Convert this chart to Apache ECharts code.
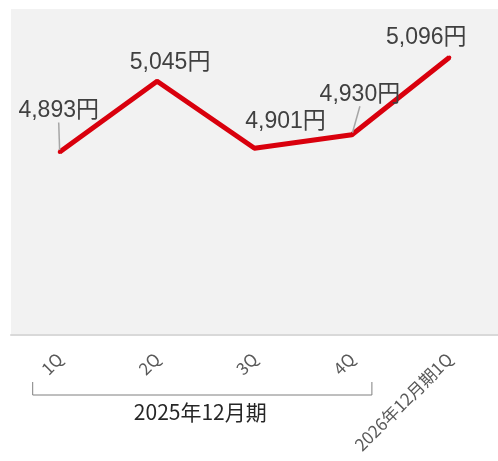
<!DOCTYPE html>
<html><head><meta charset="utf-8">
<script src="https://cdn.jsdelivr.net/npm/echarts@6/dist/echarts.min.js"></script>
<style>html,body{margin:0;padding:0;background:#fff}#c{width:498px;height:461px}</style>
</head><body><div id="c"></div>
<script>
const categories = ['1Q', '2Q', '3Q', '4Q', '2026年12月期1Q'];
const values = [4893, 5045, 4901, 4930, 5096];
const groupLabel = '2025年12月期';
const labelOffsets = [[-1, -41], [13, -19], [31, -27], [8, -40], [-23, -20]];
const showLeader = [true, false, false, true, false];

const chart = echarts.init(document.getElementById('c'));
const option = {
  animation: false,
  grid: { left: 11, top: 9, width: 496, height: 326, show: true, backgroundColor: '#f2f2f2', borderWidth: 0 },
  xAxis: {
    type: 'category', data: categories, boundaryGap: true,
    axisLine: { lineStyle: { color: '#d9d9d9', width: 2 } },
    axisTick: { show: false },
    axisLabel: { rotate: 45, margin: 21, fontSize: 17, color: '#595959', fontFamily: 'Noto Sans CJK JP', interval: 0 }
  },
  yAxis: { type: 'value', min: 4500, max: 5200, show: false, splitLine: { show: false } },
  series: [{
    type: 'line',
    data: values.map((v, i) => ({ value: v, labelLine: { show: showLeader[i] } })),
    symbol: 'circle', symbolSize: 4,
    itemStyle: { color: '#d9000d' },
    lineStyle: { color: '#d9000d', width: 5 },
    label: {
      show: true, position: 'inside', fontSize: 23, color: '#404040',
      fontFamily: 'Liberation Sans, Noto Sans CJK JP',
      formatter: p => p.value.toLocaleString('en-US') + '円'
    },
    labelLine: { lineStyle: { color: '#a6a6a6', width: 1.5 } },
    labelLayout: p => ({ dx: labelOffsets[p.dataIndex][0], dy: labelOffsets[p.dataIndex][1] })
  }]
};
chart.setOption(option);

const x1 = chart.convertToPixel({ xAxisIndex: 0 }, categories[0]);
const x4 = chart.convertToPixel({ xAxisIndex: 0 }, categories[3]);
const bl = x1 - 27, br = x4 + 20, by = 395;
chart.setOption({
  graphic: [
    { type: 'polyline', shape: { points: [[bl, 382], [bl, by], [br, by], [br, 382]] }, style: { stroke: '#7f7f7f', lineWidth: 1, fill: null } },
    { type: 'text', x: (bl + br) / 2 - 2, y: 412, style: { text: groupLabel, fontSize: 21, fill: '#262626', fontFamily: 'Noto Sans CJK JP', align: 'center', verticalAlign: 'middle' } }
  ]
});
</script></body></html>
